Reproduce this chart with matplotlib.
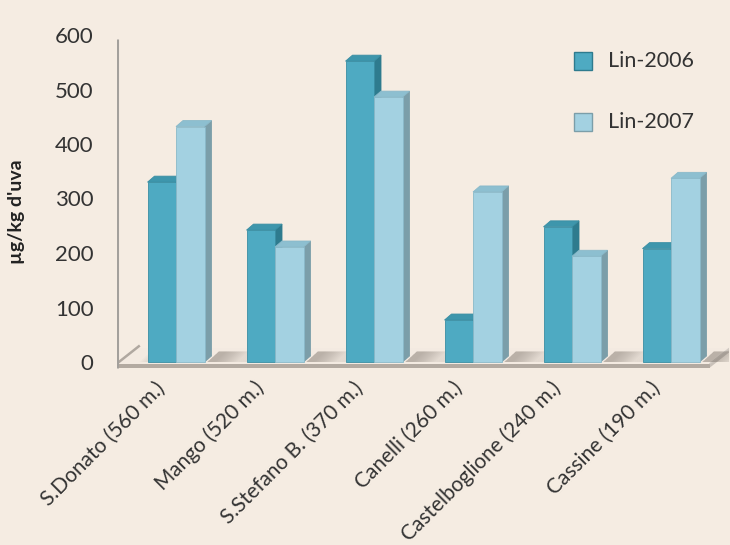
import matplotlib
matplotlib.use("Agg")
import matplotlib.pyplot as plt
from matplotlib.patches import Polygon, Rectangle

# ---------------- data ----------------
categories = ["S.Donato (560 m.)", "Mango (520 m.)", "S.Stefano B. (370 m.)",
              "Canelli (260 m.)", "Castelboglione (240 m.)", "Cassine (190 m.)"]
lin_2006 = [330, 242, 552, 77, 248, 208]
lin_2007 = [432, 211, 486, 312, 194, 337]
series_names = ["Lin-2006", "Lin-2007"]
y_ticks = [0, 100, 200, 300, 400, 500, 600]
y_label = "µg/kg d'uva"

# ---------------- style / layout ----------------
W, H = 730, 545
bg = "#f5ece2"
txt = "#333333"
font = ["Lato", "DejaVu Sans"]
plt.rcParams['font.family'] = font

c06 = {"front": "#4eaac2", "top": "#3e96ac", "side": "#2e7b8e", "edge": "#3a8ea3"}
c07 = {"front": "#a3d1e1", "top": "#8dbfd0", "side": "#7b9ea9", "edge": "#8ab9c9"}

fig = plt.figure(figsize=(W / 100, H / 100), dpi=100)
fig.patch.set_facecolor(bg)

ax_left_px, ax_right_px, ax_top_px, ax_bot_px = 117, 729, 30, 378
ax = fig.add_axes([ax_left_px / W, 1 - ax_bot_px / H,
                   (ax_right_px - ax_left_px) / W, (ax_bot_px - ax_top_px) / H])
ax.set_facecolor("none")

px_per_cat = 99.0
first_center_px = 176.0
zero_px = 362.0
px_per_unit = 327.0 / 600.0

xmin = -(first_center_px - ax_left_px) / px_per_cat
xmax = (ax_right_px - first_center_px) / px_per_cat
ymin = -(ax_bot_px - zero_px) / px_per_unit
ymax = (zero_px - ax_top_px) / px_per_unit
ax.set_xlim(xmin, xmax)
ax.set_ylim(ymin, ymax)


def dx(px):
    return px / px_per_cat


def dy(px):
    return px / px_per_unit


for s in ax.spines.values():
    s.set_visible(False)

# ---------------- floor ----------------
floor_right = dx(710 - first_center_px)
fdx, fdy = dx(19), dy(15)
f_front = -dy(1.5)
f_bottom = -dy(5.5)
floor_top = Polygon([(xmin, f_front), (floor_right, f_front),
                     (floor_right + fdx, f_front + fdy), (xmin + fdx, f_front + fdy)],
                    closed=True, facecolor="#f3eae1", edgecolor="none", zorder=1)
ax.add_patch(floor_top)
floor_front = Rectangle((xmin, f_bottom), floor_right - xmin, f_front - f_bottom,
                        facecolor="#b3aaa1", edgecolor="none", zorder=2)
ax.add_patch(floor_front)
floor_side = Polygon([(floor_right, f_bottom), (floor_right + fdx, f_bottom + fdy),
                      (floor_right + fdx, f_front + fdy), (floor_right, f_front)],
                     closed=True, facecolor="#c9c1b9", edgecolor="none", zorder=2)
ax.add_patch(floor_side)
ax.plot([xmin, xmin + fdx * 1.2], [f_front, f_front + fdy * 1.2], color="#b0a8a0", lw=1.8,
        zorder=2, solid_capstyle="butt")
ax.plot([floor_right, floor_right + fdx], [f_front, f_front + fdy], color="#d2cbc4", lw=1.0,
        zorder=2)

# vertical axis line
ax.plot([xmin, xmin], [f_bottom, dy(362 - 39)], color="#a3a09c", lw=2.2, zorder=3,
        solid_capstyle="butt")

# ---------------- bars ----------------
bw = dx(28.5)
bdx, bdy = dx(7), dy(6)


def draw_bar(x0, h, col, z):
    front = Rectangle((x0, 0), bw, h, facecolor=col["front"], edgecolor=col["edge"],
                      lw=0.6, zorder=z)
    top = Polygon([(x0, h), (x0 + bw, h), (x0 + bw + bdx, h + bdy), (x0 + bdx, h + bdy)],
                  closed=True, facecolor=col["top"], edgecolor=col["edge"], lw=0.6, zorder=z)
    side = Polygon([(x0 + bw, 0), (x0 + bw + bdx, bdy), (x0 + bw + bdx, h + bdy),
                    (x0 + bw, h)],
                   closed=True, facecolor=col["side"], edgecolor=col["side"], lw=0.6, zorder=z)
    for p in (side, top, front):
        ax.add_patch(p)


for i, (a, b) in enumerate(zip(lin_2006, lin_2007)):
    # soft shadow on the floor to the right of the group
    xr = i + bw + bdx
    for wpx in range(4, 34, 2):
        sh = Polygon([(xr - dx(4), 0), (xr + dx(wpx), 0),
                      (xr + dx(wpx) + fdx * 0.6, fdy * 0.7),
                      (xr - dx(4) + fdx * 0.6, fdy * 0.7)],
                     closed=True, facecolor="#6b625a", alpha=0.03, edgecolor="none", zorder=3)
        ax.add_patch(sh)
    # faint shadow left of the group
    xl = i - bw
    for wpx in range(2, 10, 2):
        sh = Polygon([(xl - dx(wpx), 0), (xl, 0), (xl + fdx * 0.6, fdy * 0.7),
                      (xl - dx(wpx) + fdx * 0.6, fdy * 0.7)],
                     closed=True, facecolor="#6b625a", alpha=0.03, edgecolor="none", zorder=3)
        ax.add_patch(sh)
    draw_bar(i - bw, a, c06, 4 + 2 * i)
    draw_bar(i, b, c07, 5 + 2 * i)

# ---------------- ticks ----------------
ax.set_xticks([])
ax.set_yticks(y_ticks)
ax.set_yticklabels([str(t) for t in y_ticks], fontsize=16, color=txt)
ax.tick_params(axis="y", length=0, pad=17)

for i, cat in enumerate(categories):
    ax.text(i - dx(14), ymin - dy(7), cat, rotation=45, rotation_mode="anchor",
            ha="right", va="center", fontsize=15, color=txt)

fig.text(17 / W, 1 - 212 / H, y_label, rotation=90, ha="center", va="center",
         fontsize=14, fontweight="bold", color="#222222")

# ---------------- legend ----------------
leg_cols = [c06, c07]
leg_y = [61, 122]
for name, col, ypx in zip(series_names, leg_cols, leg_y):
    sq = Rectangle((574 / W, 1 - (ypx + 9) / H), 18 / W, 18 / H, transform=fig.transFigure,
                   facecolor=col["front"], edgecolor=col["side"], lw=1.0)
    fig.add_artist(sq)
    fig.text(608 / W, 1 - ypx / H, name, ha="left", va="center", fontsize=15.5, color=txt)

fig.savefig("out.png", dpi=100, facecolor=bg)
